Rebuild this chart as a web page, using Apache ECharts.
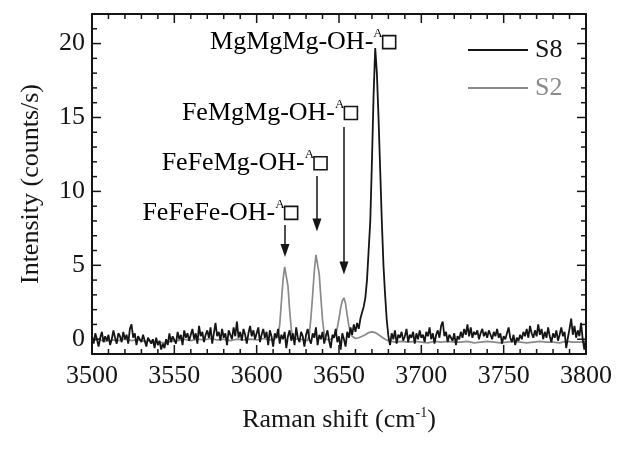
<!DOCTYPE html>
<html>
<head>
<meta charset="utf-8">
<script src="https://cdn.jsdelivr.net/npm/echarts@6/dist/echarts.min.js"></script>
<style>
html,body{margin:0;padding:0;background:#fff;}
#chart{width:617px;height:449px;}
</style>
</head>
<body>
<div id="chart"></div>
<script>
// ---------------- data ----------------
const xStart = 3500;   // first wavenumber of S8 (cm-1), 1 cm-1 steps
const s8Values = [
  0.2, -0.3, 0.4, 0.0, -0.5, 0.1, 0.5, -0.2, 0.2, -0.1,
  0.3, -0.4, 0.0, 0.6, 0.1, -0.3, 0.4, 0.2, -0.2, 0.5,
  0.0, 0.3, -0.3, 0.7, 1.0, 0.1, 0.4, -0.4, 0.2, 0.0,
  -0.2, 0.3, -0.1, -0.5, 0.1, 0.2, -0.3, 0.0, -0.6, 0.1,
  -0.4, -0.1, -0.7, -0.3, -0.6, 0.0, -0.4, 0.4, -0.2, 0.2,
  0.1, -0.3, 0.5, 0.0, 0.3, -0.4, 0.6, 0.1, 0.4, -0.1,
  0.3, 0.7, 0.0, 0.4, -0.3, 0.9, 0.2, 0.5, -0.2, 0.3,
  0.6, 0.1, 0.8, -0.3, 0.4, 1.1, 0.2, 0.5, -0.1, 0.7,
  0.1, 0.4, -0.4, 0.6, 0.3, 0.0, 0.8, 0.2, 1.2, 0.1,
  0.5, -0.1, 0.7, 0.3, -0.3, 0.4, 0.9, 0.2, 0.6, 0.0,
  0.4, 0.8, -0.2, 0.3, 0.7, 0.1, 0.5, -0.4, 0.6, 0.2,
  -0.5, 0.4, 0.1, 0.7, -0.3, 0.3, 0.0, 0.5, -0.6, 0.2,
  0.6, -0.1, 0.4, -0.4, 0.8, 0.1, -0.2, 0.5, 0.2, -0.5,
  0.3, 0.7, 0.0, -0.3, 0.4, 0.1, 0.8, -0.4, 0.3, 0.0,
  0.5, -0.3, 0.2, 0.6, -0.1, -0.6, 0.3, 0.1, 0.7, -0.2,
  0.2, -0.7, 0.4, 0.0, -0.5, 0.5, 0.1, 0.8, 0.3, 1.0,
  0.5, 1.1, 0.7, 1.4, 1.8, 2.2, 2.8, 4.0, 6.0, 8.0,
  12.0, 16.5, 19.7, 18.0, 15.0, 11.5, 8.0, 5.0, 3.0, 1.3,
  0.2, -0.4, 0.4, 0.0, 0.6, -0.3, 0.3, 0.1, 0.5, -0.1,
  0.2, 0.7, -0.2, 0.3, 0.1, 0.5, -0.3, 0.4, 0.0, 0.6,
  0.1, 0.3, -0.2, 0.5, 0.2, 0.8, 0.0, 0.4, -0.3, 0.3,
  0.6, 0.1, 0.9, 1.2, 0.2, 0.5, -0.2, 0.3, 0.1, -0.1,
  0.4, -0.4, 0.2, 0.0, 0.5, 0.1, 0.7, 0.3, 1.0, 0.2,
  0.8, 0.1, 0.5, 0.3, 0.6, 0.0, 0.4, 0.7, 0.2, 0.5,
  0.1, 0.6, 0.3, 0.0, 0.5, 0.2, 0.7, 0.1, 0.4, -0.3,
  0.2, 0.0, 0.4, 0.8, 0.1, -0.2, 0.3, -0.4, 0.1, -0.1,
  0.3, 0.0, 0.5, 0.2, 0.7, 0.1, 0.9, 0.4, 0.1, 0.6,
  0.2, 1.0, 0.3, 0.7, 0.0, 0.5, 0.1, 0.8, 0.2, -0.2,
  0.4, 0.1, 0.6, -0.1, 0.3, 0.8, 0.2, 0.5, -0.6, 0.1,
  0.7, 1.4, 0.3, 0.9, 0.1, 0.6, 0.2, 1.1, 0.0, -0.7,
  0.1
];

const s2Shift = [
  3500, 3504, 3508, 3512, 3516, 3520, 3524, 3528, 3532, 3536,
  3540, 3544, 3548, 3552, 3556, 3560, 3564, 3568, 3572, 3576,
  3580, 3584, 3588, 3592, 3596, 3600, 3604, 3608, 3611,
  3612, 3613, 3614, 3615, 3616, 3617, 3618, 3619, 3620, 3621, 3622, 3623,
  3626, 3629,
  3631, 3632, 3633, 3634, 3635, 3636, 3637, 3638, 3639, 3640, 3641, 3642,
  3644, 3646,
  3647, 3648, 3649, 3650, 3651, 3652, 3653, 3654, 3655, 3656, 3657, 3658,
  3660, 3662, 3664, 3666, 3668, 3670, 3672, 3674, 3676, 3678, 3680,
  3684, 3688, 3692, 3696, 3700, 3704, 3708, 3712, 3716, 3720,
  3724, 3728, 3732, 3736, 3740, 3744, 3748, 3752, 3756, 3760,
  3764, 3768, 3772, 3776, 3780, 3784, 3788, 3792, 3796, 3800
];
const s2Values = [
  -0.1, 0.0, -0.15, -0.05, -0.1, 0.0, -0.1, -0.05, -0.15, -0.1,
  -0.2, -0.25, -0.15, -0.1, 0.0, -0.1, 0.0, -0.05, 0.05, -0.05,
  0.0, -0.1, 0.0, -0.05, 0.0, -0.05, 0.05, -0.05, 0.0,
  -0.1, 0.2, 1.0, 2.5, 4.0, 4.9, 4.8, 3.6, 2.0, 0.7, 0.0, -0.1,
  0.0, -0.05,
  -0.1, 0.4, 1.5, 3.0, 4.6, 5.7, 5.6, 4.4, 2.8, 1.3, 0.4, 0.0,
  -0.05, 0.05,
  0.0, 0.3, 0.8, 1.4, 2.1, 2.6, 2.8, 2.4, 1.6, 0.9, 0.4, 0.2,
  0.05, 0.1, 0.2, 0.3, 0.45, 0.5, 0.45, 0.3, 0.15, 0.0, -0.1,
  -0.2, -0.15, -0.2, -0.15, -0.2, -0.25, -0.15, -0.2, -0.15, -0.2,
  -0.2, -0.15, -0.25, -0.2, -0.15, -0.2, -0.25, -0.2, -0.15, -0.2,
  -0.25, -0.2, -0.15, -0.2, -0.2, -0.25, -0.15, -0.2, -0.2, -0.15
];

const xMajorTicks = [3500, 3550, 3600, 3650, 3700, 3750, 3800];
const xMinorStep = 10;
const yMajorTicks = [0, 5, 10, 15, 20];
const yMinorStep = 1;
const xMin = 3500, xMax = 3800;
const yMin = -1, yMax = 22;

const annoText = ['MgMgMg-OH-', 'FeMgMg-OH-', 'FeFeMg-OH-', 'FeFeFe-OH-'];
const annoLeftX = [3571.7, 3554.6, 3542.3, 3530.6];   // text start (data x)
const annoMidY  = [20.1, 15.3, 11.9, 8.55];            // text middle (data y)

const arrowX     = [3653.0, 3636.6, 3617.2];
const arrowFromY = [14.36, 11.04, 7.72];
const arrowToY   = [4.82, 7.73, 6.0];

// ---------------- chart ----------------
const FONT = '"Liberation Serif", "Times New Roman", serif';
const INK = '#151515';
const GRAY = '#8a8a8a';
const MAJOR_LEN = 9, MINOR_LEN = 5;

const s8Data = s8Values.map((v, i) => [xStart + i, v]);
const s2Data = s2Shift.map((x, i) => [x, s2Values[i]]);

// tick marks: [kind (0 = x, 1 = y), value, length]
const tickData = [];
for (let v = xMin; v <= xMax; v += xMinorStep) {
  tickData.push([0, v, xMajorTicks.indexOf(v) >= 0 ? MAJOR_LEN : MINOR_LEN]);
}
for (let v = yMin; v <= yMax; v += yMinorStep) {
  tickData.push([1, v, yMajorTicks.indexOf(v) >= 0 ? MAJOR_LEN : MINOR_LEN]);
}

const chart = echarts.init(document.getElementById('chart'), null, {renderer: 'canvas'});

function axisBase(extra) {
  return Object.assign({
    type: 'value',
    axisLine: {show: true, onZero: false, lineStyle: {color: INK, width: 2}},
    axisTick: {show: false},
    minorTick: {show: false},
    splitLine: {show: false},
    axisLabel: {show: false}
  }, extra);
}

chart.setOption({
  animation: false,
  backgroundColor: '#fff',
  grid: {left: 92, right: 31, top: 14, bottom: 95, containLabel: false},
  legend: {
    orient: 'vertical', left: 463, top: 32, itemGap: 12,
    itemWidth: 60, itemHeight: 2, icon: 'rect',
    textStyle: {fontFamily: FONT, fontSize: 26, lineHeight: 26, padding: [0, 0, 0, 2]},
    data: [
      {name: 'S8', textStyle: {color: INK}},
      {name: 'S2', textStyle: {color: GRAY}}
    ]
  },
  xAxis: [
    axisBase({
      position: 'bottom', min: xMin, max: xMax, interval: 50,
      axisLabel: {show: true, margin: 9, fontFamily: FONT, fontSize: 26, color: INK, formatter: v => String(v)},
      name: 'Raman shift (cm{sup|-1})', nameLocation: 'middle', nameGap: 52,
      nameTextStyle: {fontFamily: FONT, fontSize: 26, color: INK, lineHeight: 28,
        rich: {sup: {fontFamily: FONT, fontSize: 14, color: INK, verticalAlign: 'top', lineHeight: 14}}}
    }),
    axisBase({position: 'top', min: xMin, max: xMax, interval: 50})
  ],
  yAxis: [
    axisBase({
      position: 'left', min: yMin, max: yMax, interval: 1,
      axisLabel: {show: true, margin: 7, fontFamily: FONT, fontSize: 26, color: INK,
        showMinLabel: false, showMaxLabel: false,
        formatter: v => (yMajorTicks.indexOf(v) >= 0 ? String(v) : '')},
      name: 'Intensity (counts/s)', nameLocation: 'middle', nameGap: 48,
      nameTextStyle: {fontFamily: FONT, fontSize: 26, color: INK}
    }),
    axisBase({position: 'right', min: yMin, max: yMax, interval: 1})
  ],
  series: [
    {
      type: 'custom', silent: true, clip: false, z: 5,
      xAxisIndex: 0, yAxisIndex: 0,
      data: tickData,
      encode: {x: 1, y: 1},
      renderItem: function (params, api) {
        const kind = api.value(0), v = api.value(1), len = api.value(2);
        const style = {stroke: INK, lineWidth: 1.5};
        let a, b, s1, s2;
        if (kind === 0) {
          a = api.coord([v, yMin]); b = api.coord([v, yMax]);
          s1 = {x1: a[0], y1: a[1], x2: a[0], y2: a[1] - len};
          s2 = {x1: b[0], y1: b[1], x2: b[0], y2: b[1] + len};
        } else {
          a = api.coord([xMin, v]); b = api.coord([xMax, v]);
          s1 = {x1: a[0], y1: a[1], x2: a[0] + len, y2: a[1]};
          s2 = {x1: b[0], y1: b[1], x2: b[0] - len, y2: b[1]};
        }
        return {type: 'group', children: [
          {type: 'line', shape: s1, style: style},
          {type: 'line', shape: s2, style: style}
        ]};
      }
    },
    {
      name: 'S2', type: 'line', data: s2Data, showSymbol: false, symbol: 'none',
      xAxisIndex: 0, yAxisIndex: 0,
      lineStyle: {color: GRAY, width: 1.7}, itemStyle: {color: GRAY},
      emphasis: {disabled: true},
      markLine: {
        silent: true, symbol: ['none', 'triangle'], symbolSize: [9, 13],
        lineStyle: {color: INK, width: 1.5, type: 'solid'},
        label: {show: false},
        data: arrowX.map((x, i) => [{coord: [x, arrowFromY[i]]}, {coord: [x, arrowToY[i]]}])
      }
    },
    {
      name: 'S8', type: 'line', data: s8Data, showSymbol: false, symbol: 'none',
      xAxisIndex: 0, yAxisIndex: 0,
      lineStyle: {color: INK, width: 1.8}, itemStyle: {color: INK},
      emphasis: {disabled: true}
    }
  ]
});

const rich = {
  t: {fontFamily: FONT, fontSize: 26, color: INK, lineHeight: 30},
  s: {fontFamily: FONT, fontSize: 13, color: INK, lineHeight: 10, verticalAlign: 'top'},
  b: {width: 13, height: 13, borderColor: INK, borderWidth: 1.6, verticalAlign: 'middle', lineHeight: 13}
};
chart.setOption({
  graphic: annoText.map((t, i) => {
    const p = chart.convertToPixel({xAxisIndex: 0, yAxisIndex: 0}, [annoLeftX[i], annoMidY[i]]);
    return {
      type: 'text', x: p[0], y: p[1], silent: true,
      style: {text: '{t|' + t + '}{s|A}{b|}', rich: rich, align: 'left', verticalAlign: 'middle'}
    };
  })
});
</script>
</body>
</html>
